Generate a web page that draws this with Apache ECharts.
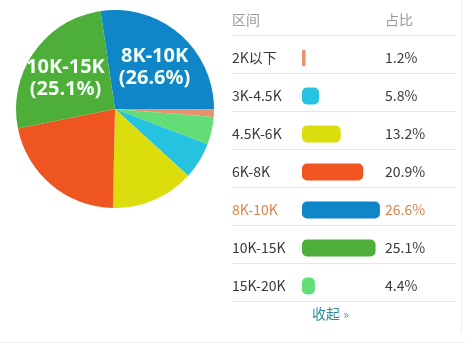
<!DOCTYPE html>
<html>
<head>
<meta charset="utf-8">
<script src="https://cdn.jsdelivr.net/npm/echarts@6/dist/echarts.min.js"></script>
<style>
  html, body { margin: 0; padding: 0; background: #fff; }
  #chart { width: 465px; height: 344px; }
</style>
</head>
<body>
<div id="chart"></div>
<script>
// Salary ranges and their share of the total (percent)
const categories = ['2K以下', '3K-4.5K', '4.5K-6K', '6K-8K', '8K-10K', '10K-15K', '15K-20K'];
const shares = [1.2, 5.8, 13.2, 20.9, 26.6, 25.1, 4.4];
const colors = ['#e8916f', '#25c3e0', '#dcdd0c', '#ee5520', '#0f86c8', '#4dae3a', '#62dd78'];
// Order in which the ranges go round the pie, clockwise
const pieOrder = [4, 0, 6, 1, 2, 3, 5];
const labelled = ['8K-10K', '10K-15K'];
const activeRange = '8K-10K';
const headers = ['区间', '占比'];
const toggleText = '收起';

// Layout constants
const PIE_CENTER = [115, 109];
const PIE_R = 99;
const TABLE_LEFT = 232;
const TABLE_RIGHT = 456;
const BAR_LEFT = 302;
const VALUE_LEFT = 385;
const ROW_PITCH = 38;
const FIRST_ROW_CENTER = 58;
const FIRST_RULE = 35;
const AXIS_MAX = 27;
const PX_PER_UNIT = 2.93;

const CJK = '"Noto Sans CJK SC", "Noto Sans", sans-serif';
const TEXT = '#3a3a3a';
const ACTIVE = '#d9854c';
const MUTED = '#9a9a9a';
const RULE = '#e6e6e6';

const pieData = pieOrder.map(i => ({
  name: categories[i],
  value: shares[i],
  itemStyle: { color: colors[i] }
}));

const labelData = pieOrder.map(i => ({
  name: categories[i],
  value: shares[i],
  label: { show: labelled.includes(categories[i]) }
}));

const gridWidth = AXIS_MAX * PX_PER_UNIT;
const gridTop = FIRST_ROW_CENTER - ROW_PITCH / 2;

// Horizontal rules of the table
const rules = [];
for (let k = 0; k <= categories.length; k++) {
  const y = FIRST_RULE + k * ROW_PITCH + 0.5;
  rules.push({
    type: 'line', silent: true,
    shape: { x1: TABLE_LEFT, y1: y, x2: TABLE_RIGHT, y2: y },
    style: { stroke: RULE, lineWidth: 1 }
  });
}

const chart = echarts.init(document.getElementById('chart'), null, { renderer: 'canvas' });
chart.setOption({
  animation: false,
  backgroundColor: '#ffffff',
  grid: {
    left: BAR_LEFT, top: gridTop, width: gridWidth,
    height: ROW_PITCH * categories.length, containLabel: false
  },
  xAxis: { type: 'value', min: 0, max: AXIS_MAX, show: false },
  yAxis: [
    {
      type: 'category', inverse: true, data: categories,
      axisLine: { show: false }, axisTick: { show: false },
      axisLabel: {
        margin: BAR_LEFT - TABLE_LEFT, align: 'left',
        fontFamily: CJK, fontSize: 14,
        color: (v) => v === activeRange ? ACTIVE : TEXT
      }
    },
    {
      type: 'category', inverse: true, position: 'right',
      data: shares.map(v => v.toFixed(1) + '%'),
      axisLine: { show: false }, axisTick: { show: false },
      axisLabel: {
        margin: VALUE_LEFT - (BAR_LEFT + gridWidth), align: 'left',
        fontFamily: CJK, fontSize: 14,
        color: (v, i) => categories[i] === activeRange ? ACTIVE : TEXT
      }
    }
  ],
  series: [
    {
      type: 'pie',
      center: PIE_CENTER, radius: PIE_R,
      startAngle: 98.4, clockwise: true,
      silent: true,
      label: { show: false }, labelLine: { show: false },
      itemStyle: { borderWidth: 0 },
      emphasis: { disabled: true },
      data: pieData
    },
    {
      // transparent ring that only carries the slice captions
      type: 'pie',
      center: PIE_CENTER, radius: [16, PIE_R],
      startAngle: 98.4, clockwise: true,
      silent: true,
      itemStyle: { color: 'rgba(0,0,0,0)', borderWidth: 0 },
      labelLine: { show: false },
      label: {
        position: 'inside',
        formatter: '{b}\n({c}%)',
        color: '#f6fff4', opacity: 1,
        fontFamily: '"Noto Sans", sans-serif',
        fontWeight: 'bold', fontSize: 20, lineHeight: 22,
        offset: [0, 4]
      },
      emphasis: { disabled: true },
      data: labelData
    },
    {
      type: 'bar',
      barWidth: 17,
      silent: true,
      itemStyle: { borderRadius: 5 },
      data: shares.map((v, i) => ({ value: v, itemStyle: { color: colors[i] } }))
    }
  ],
  graphic: [
    ...rules,
    {
      type: 'text', silent: true, x: TABLE_LEFT, y: 20,
      style: { text: headers[0], fill: MUTED, font: '14px ' + CJK, verticalAlign: 'middle' }
    },
    {
      type: 'text', silent: true, x: VALUE_LEFT, y: 20,
      style: { text: headers[1], fill: MUTED, font: '14px ' + CJK, verticalAlign: 'middle' }
    },
    {
      type: 'text', silent: true, x: 312, y: 314,
      style: {
        text: '{t|' + toggleText + '} {a|»}',
        verticalAlign: 'middle',
        rich: {
          t: { fill: '#2f8c9c', fontSize: 14, fontFamily: CJK },
          a: { fill: '#5a9aa8', fontSize: 12, fontFamily: CJK }
        }
      }
    },
    {
      type: 'line', silent: true,
      shape: { x1: 461.5, y1: 0, x2: 461.5, y2: 333 },
      style: { stroke: '#eeeeee', lineWidth: 1 }
    },
    {
      type: 'line', silent: true,
      shape: { x1: 0, y1: 342.5, x2: 465, y2: 342.5 },
      style: { stroke: '#f0f0f0', lineWidth: 1 }
    }
  ]
});
</script>
</body>
</html>
